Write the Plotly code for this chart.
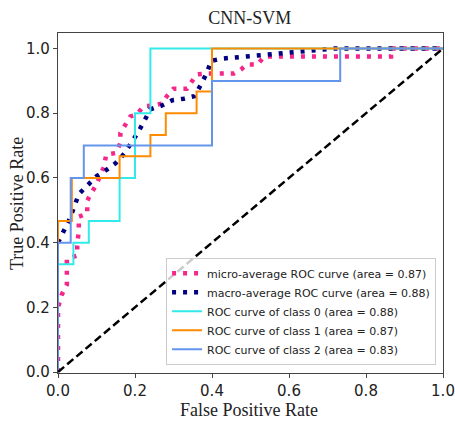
import plotly.graph_objects as go

# ---- data ----
micro_fpr = [0, 0, 0.01, 0.023, 0.023, 0.023, 0.05, 0.05, 0.054, 0.054, 0.076, 0.076, 0.09, 0.1,
             0.12, 0.125, 0.15, 0.162, 0.162, 0.175, 0.188, 0.205, 0.222, 0.248, 0.27, 0.283, 0.3,
             0.335, 0.36, 0.387, 0.457, 0.475, 0.49, 0.518, 0.535, 0.865, 0.865, 1.0]
micro_tpr = [0, 0.2, 0.24, 0.27, 0.31, 0.35, 0.36, 0.39, 0.44, 0.48, 0.49, 0.53, 0.56, 0.58,
             0.636, 0.672, 0.677, 0.708, 0.739, 0.765, 0.79, 0.796, 0.822, 0.824, 0.83, 0.853, 0.876,
             0.876, 0.92, 0.923, 0.923, 0.935, 0.951, 0.95, 0.975, 0.975, 1.0, 1.0]

macro_fpr = [0, 0.018, 0.031, 0.054, 0.076, 0.1, 0.125, 0.15, 0.172, 0.19, 0.208, 0.224, 0.24,
             0.27, 0.297, 0.327, 0.355, 0.37, 0.386, 0.398, 0.427, 0.457, 0.486, 0.518, 0.544,
             0.57, 0.6, 0.63, 0.66, 0.69, 0.718, 1.0]
macro_tpr = [0.4, 0.44, 0.475, 0.55, 0.578, 0.605, 0.624, 0.646, 0.675, 0.706, 0.741, 0.776, 0.812,
             0.824, 0.84, 0.845, 0.853, 0.886, 0.923, 0.962, 0.969, 0.972, 0.975, 0.979, 0.982,
             0.986, 0.99, 0.993, 0.996, 0.998, 1.0, 1.0]

c0_fpr = [0, 0, 0.04, 0.04, 0.08, 0.08, 0.16, 0.16, 0.2, 0.2, 0.24, 0.24, 1.0]
c0_tpr = [0, 0.333, 0.333, 0.4, 0.4, 0.467, 0.467, 0.6, 0.6, 0.8, 0.8, 1.0, 1.0]

c1_fpr = [0, 0, 0.036, 0.036, 0.16, 0.16, 0.24, 0.24, 0.28, 0.28, 0.36, 0.36, 0.4, 0.4, 1.0]
c1_tpr = [0, 0.467, 0.467, 0.6, 0.6, 0.667, 0.667, 0.733, 0.733, 0.8, 0.8, 0.867, 0.867, 1.0, 1.0]

c2_fpr = [0, 0, 0.033, 0.033, 0.067, 0.067, 0.4, 0.4, 0.733, 0.733, 1.0]
c2_tpr = [0, 0.4, 0.4, 0.6, 0.6, 0.7, 0.7, 0.9, 0.9, 1.0, 1.0]

diag = [0, 1]

names = ["micro-average ROC curve (area = 0.87)",
         "macro-average ROC curve (area = 0.88)",
         "ROC curve of class 0 (area = 0.88)",
         "ROC curve of class 1 (area = 0.87)",
         "ROC curve of class 2 (area = 0.83)"]

title_text = "CNN-SVM"
x_title = "False Positive Rate"
y_title = "True Positive Rate"

fig = go.Figure()
fig.add_trace(go.Scatter(x=micro_fpr, y=micro_tpr, mode="lines", name=names[0],
                         line=dict(color="#f5288a", width=4.5, dash="4px,7px")))
fig.add_trace(go.Scatter(x=macro_fpr, y=macro_tpr, mode="lines", name=names[1],
                         line=dict(color="#000080", width=4.5, dash="4px,7px")))
fig.add_trace(go.Scatter(x=c0_fpr, y=c0_tpr, mode="lines", name=names[2],
                         line=dict(color="#33eaea", width=2)))
fig.add_trace(go.Scatter(x=c1_fpr, y=c1_tpr, mode="lines", name=names[3],
                         line=dict(color="#ff8c00", width=2)))
fig.add_trace(go.Scatter(x=c2_fpr, y=c2_tpr, mode="lines", name=names[4],
                         line=dict(color="#6495ed", width=2)))
fig.add_trace(go.Scatter(x=diag, y=diag, mode="lines", showlegend=False,
                         line=dict(color="black", width=2.5, dash="8px,4px")))

axis_common = dict(showgrid=False, zeroline=False, showline=True, linecolor="#444",
                   linewidth=1.2, mirror=True, ticks="outside", ticklen=4,
                   tickcolor="#444", tickformat=".1f", dtick=0.2, automargin=False,
                   tickfont=dict(family="DejaVu Sans", size=15, color="#222"))

serif = dict(family="Liberation Serif", size=18, color="#222")

fig.update_layout(
    width=455, height=424,
    margin=dict(l=58, r=12, t=33, b=51),
    paper_bgcolor="white", plot_bgcolor="white",
    title=dict(text=title_text, x=0.549, xanchor="center", y=0.9575, yanchor="middle",
               font=serif),
    xaxis=dict(range=[0, 1.0], **axis_common),
    yaxis=dict(range=[-0.003, 1.048], **axis_common),
    legend=dict(x=0.982, xanchor="right", y=0.024, yanchor="bottom",
                bgcolor="rgba(255,255,255,0.8)", bordercolor="#cccccc", borderwidth=1,
                font=dict(family="DejaVu Sans", size=11, color="#222"),
                tracegroupgap=0, itemwidth=30),
    showlegend=True,
    annotations=[
        dict(text=x_title, xref="paper", yref="paper", x=0.497, y=-0.109,
             xanchor="center", yanchor="middle", showarrow=False, font=serif),
        dict(text=y_title, xref="paper", yref="paper", x=-0.1065, y=0.5,
             xanchor="center", yanchor="middle", textangle=-90, showarrow=False, font=serif),
    ],
)

fig.write_html("out.html", config={"displayModeBar": False},
               post_script="document.body.style.margin='0';")
